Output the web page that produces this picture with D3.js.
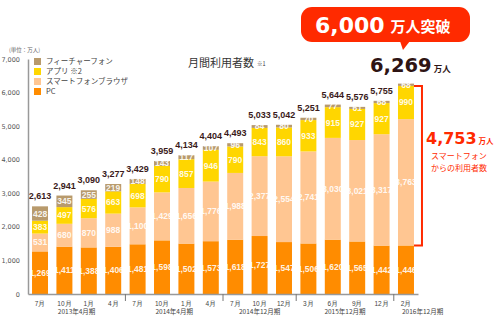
<!DOCTYPE html>
<html>
<head>
<meta charset="utf-8">
<script src="https://cdn.jsdelivr.net/npm/d3@7"></script>
<style>
  body { margin: 0; background: #fff; }
  svg { display: block; font-family: "Noto Sans CJK JP", "Noto Sans", sans-serif; }
</style>
</head>
<body>
<div id="graph-container"></div>
<script>
const months = ['7月', '10月', '1月', '4月', '7月', '10月', '1月', '4月', '7月', '10月', '12月', '3月', '6月', '9月', '12月', '2月'];
const pcUsers = [1269, 1411, 1388, 1406, 1481, 1598, 1502, 1573, 1618, 1727, 1547, 1506, 1620, 1565, 1442, 1446];
const browserUsers = [531, 680, 870, 988, 1100, 1429, 1656, 1776, 1988, 2377, 2554, 2741, 3030, 3021, 3317, 3763];
const appUsers = [383, 497, 576, 663, 698, 790, 857, 946, 790, 843, 860, 933, 915, 927, 927, 990];
const featureUsers = [428, 345, 255, 219, 148, 143, 117, 107, 96, 84, 80, 70, 77, 61, 68, 68];
const totals = [2613, 2941, 3090, 3277, 3429, 3959, 4134, 4404, 4493, 5033, 5042, 5251, 5644, 5576, 5755, 6269];
// fiscal period groups: [first bar, last bar, label]
const periods = [[0, 3, '2013年4月期'], [4, 7, '2014年4月期'], [8, 10, '2014年12月期'], [11, 14, '2015年12月期'], [15, 15, '2016年12月期']];
const yTicks = [0, 1000, 2000, 3000, 4000, 5000, 6000, 7000];

const series = [
  { key: 'pc', name: 'PC', values: pcUsers, color: '#ff8c00' },
  { key: 'browser', name: 'スマートフォンブラウザ', values: browserUsers, color: '#ffc692' },
  { key: 'app', name: 'アプリ ※2', values: appUsers, color: '#ffd600' },
  { key: 'feature', name: 'フィーチャーフォン', values: featureUsers, color: '#b89a6c' }
];

const w = 500;
const h = 323;
const fmt = d3.format(',');
const numFont = 'Liberation Sans';
const bigFont = 'DejaVu Sans';

const table = months.map((m, i) => {
  const row = { i };
  series.forEach(s => { row[s.key] = s.values[i]; });
  return row;
});

const stack = d3.stack().keys(series.map(s => s.key));
const layers = stack(table);

const x = d3.scaleBand()
  .domain(d3.range(months.length))
  .range([28, 418])
  .paddingInner(0.345)
  .paddingOuter(0.165);

const y = d3.scaleLinear()
  .domain([0, 7000])
  .range([294, 59]);

const svg = d3.select('#graph-container')
  .append('svg')
  .attr('width', w)
  .attr('height', h);

// bars
const layerG = svg.selectAll('g.layer')
  .data(layers)
  .enter().append('g')
  .attr('class', 'layer')
  .attr('fill', (d, i) => series[i].color);

layerG.selectAll('rect')
  .data(d => d)
  .enter().append('rect')
  .attr('x', (d, i) => x(i))
  .attr('y', d => y(d[1]))
  .attr('width', x.bandwidth())
  .attr('height', d => y(d[0]) - y(d[1]));

// segment values
layerG.selectAll('text')
  .data(d => d)
  .enter().append('text')
  .attr('x', (d, i) => x(i) + x.bandwidth() / 2)
  .attr('y', d => (y(d[0]) + y(d[1])) / 2)
  .attr('dy', '0.35em')
  .attr('text-anchor', 'middle')
  .attr('font-family', numFont)
  .attr('font-weight', 'bold')
  .attr('font-size', 8.5)
  .attr('fill', '#fff')
  .attr('fill-opacity', 0.9)
  .text(d => fmt(d[1] - d[0]));

// totals above bars (last one gets the big label instead)
svg.append('g')
  .selectAll('text')
  .data(totals.slice(0, -1))
  .enter().append('text')
  .attr('x', (d, i) => x(i) + x.bandwidth() / 2)
  .attr('y', (d, i) => y(layers[3][i][1]) - 7)
  .attr('text-anchor', 'middle')
  .attr('font-family', numFont)
  .attr('font-weight', 'bold')
  .attr('font-size', 9)
  .attr('fill', '#3a1a1a')
  .text(d => fmt(d));

// y axis
const yAxis = svg.append('g')
  .attr('transform', 'translate(28,0)')
  .call(d3.axisLeft(y).tickValues(yTicks).tickSize(0).tickPadding(8).tickFormat(fmt));
yAxis.select('.domain').attr('stroke', '#999').attr('stroke-width', 1.5);
yAxis.selectAll('.tick text')
  .attr('font-family', bigFont)
  .attr('font-size', 6.5)
  .attr('fill', '#555');

// x axis
const xAxis = svg.append('g')
  .attr('transform', 'translate(0,294)')
  .call(d3.axisBottom(x).tickSize(0).tickPadding(7).tickFormat(i => months[i]));
xAxis.select('.domain').attr('stroke', '#999').attr('stroke-width', 1.5);
xAxis.selectAll('.tick text')
  .attr('font-size', 6.5)
  .attr('fill', '#444');

// period separators and labels
const step = x.step();
svg.append('g')
  .selectAll('line')
  .data(periods.slice(1))
  .enter().append('line')
  .attr('x1', d => x(d[0]) - (step - x.bandwidth()) / 2)
  .attr('x2', d => x(d[0]) - (step - x.bandwidth()) / 2)
  .attr('y1', 294)
  .attr('y2', 301)
  .attr('stroke', '#777')
  .attr('stroke-width', 1);

svg.append('g')
  .selectAll('text')
  .data(periods)
  .enter().append('text')
  .attr('x', d => d[0] === d[1]
    ? x(d[0]) + 4
    : (x(d[0]) + x(d[1]) + x.bandwidth()) / 2)
  .attr('y', 314)
  .attr('text-anchor', d => d[0] === d[1] ? 'start' : 'middle')
  .attr('font-size', 6.5)
  .attr('fill', '#444')
  .text(d => d[2]);

// unit note
svg.append('text')
  .attr('x', 9)
  .attr('y', 52)
  .attr('font-size', 5.5)
  .attr('fill', '#666')
  .text('(単位：万人)');

// legend
const legend = svg.append('g')
  .attr('transform', 'translate(34,58)');
const legendItems = series.slice().reverse();
legend.selectAll('rect')
  .data(legendItems)
  .enter().append('rect')
  .attr('x', 0)
  .attr('y', (d, i) => i * 10)
  .attr('width', 7)
  .attr('height', 7)
  .attr('fill', d => d.color);
legend.selectAll('text')
  .data(legendItems)
  .enter().append('text')
  .attr('x', 12)
  .attr('y', (d, i) => i * 10 + 3.5)
  .attr('dy', '0.35em')
  .attr('font-size', 7.5)
  .attr('fill', '#444')
  .text(d => d.name);

// chart title
const title = svg.append('text')
  .attr('x', 188)
  .attr('y', 67)
  .attr('font-size', 11)
  .attr('fill', '#333')
  .text('月間利用者数');
title.append('tspan')
  .attr('dx', 3)
  .attr('font-size', 5.5)
  .attr('dy', -1)
  .text('※1');

// callout bubble
const last = months.length - 1;
const lastCx = x(last) + x.bandwidth() / 2;
const bubble = svg.append('g');
bubble.append('rect')
  .attr('x', 301)
  .attr('y', 7)
  .attr('width', 169)
  .attr('height', 35)
  .attr('rx', 11)
  .attr('fill', '#ff2a00');
bubble.append('path')
  .attr('d', `M${lastCx - 6},41 L${lastCx - 3},50 L${lastCx + 4},41 Z`)
  .attr('fill', '#ff2a00');
const bubbleText = bubble.append('text')
  .attr('x', 315)
  .attr('y', 33)
  .attr('fill', '#fff')
  .attr('font-weight', 'bold');
bubbleText.append('tspan')
  .attr('font-family', bigFont)
  .attr('font-size', 22)
  .text('6,000');
bubbleText.append('tspan')
  .attr('dx', 6)
  .attr('dy', -1)
  .attr('font-size', 15)
  .text('万人突破');

// headline total for the last bar
const bigTotal = svg.append('text')
  .attr('x', 370)
  .attr('y', 72)
  .attr('fill', '#2e1414')
  .attr('font-weight', 'bold');
bigTotal.append('tspan')
  .attr('font-family', bigFont)
  .attr('font-size', 19.5)
  .text(fmt(totals[last]));
bigTotal.append('tspan')
  .attr('dx', 2)
  .attr('font-size', 8.5)
  .text('万人');

// bracket for smartphone users (browser + app) on the last bar
const smartTop = y(layers[2][last][1]);
const smartBottom = y(layers[1][last][0]);
const bx0 = x(last) + x.bandwidth();
svg.append('path')
  .attr('d', `M${bx0},${smartTop} H${bx0 + 8} V${smartBottom} H${bx0}`)
  .attr('fill', 'none')
  .attr('stroke', '#ff2a00')
  .attr('stroke-width', 2);

const smartTotal = browserUsers[last] + appUsers[last];
const smartLabel = svg.append('text')
  .attr('x', 426)
  .attr('y', 144)
  .attr('fill', '#ff2a00')
  .attr('font-weight', 'bold');
smartLabel.append('tspan')
  .attr('font-family', bigFont)
  .attr('font-size', 16)
  .text(fmt(smartTotal));
smartLabel.append('tspan')
  .attr('dx', 2)
  .attr('font-size', 7.5)
  .text('万人');

svg.append('g')
  .selectAll('text')
  .data(['スマートフォン', 'からの利用者数'])
  .enter().append('text')
  .attr('x', 431)
  .attr('y', (d, i) => 159 + i * 11.5)
  .attr('font-size', 8)
  .attr('fill', '#ff2a00')
  .text(d => d);
</script>
</body>
</html>
